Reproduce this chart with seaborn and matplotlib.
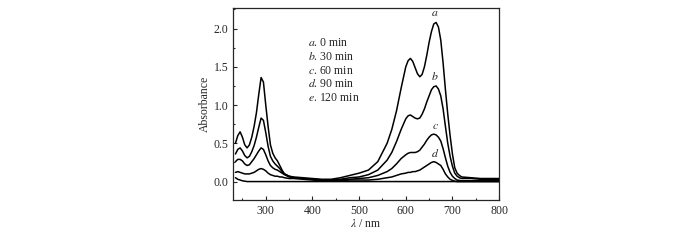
import pandas as pd
import numpy as np
import matplotlib.pyplot as plt
import seaborn as sns
from matplotlib.ticker import MultipleLocator

# wavelength grid (nm) and absorbance
wavelength = [235, 240, 245, 250, 255, 260, 265, 270, 275, 280, 285,
              290, 295, 300, 305, 310, 315, 320, 325, 330, 335, 340,
              350, 360, 380, 400, 420, 440, 460, 480, 500, 520, 540,
              560, 570, 580, 590, 600, 605, 610, 615, 620, 625, 630,
              635, 640, 645, 650, 655, 660, 665, 670, 675, 680, 685,
              690, 695, 700, 705, 710, 715, 720, 740, 760, 780, 800]

abs_a = [0.50, 0.60, 0.65, 0.58, 0.48, 0.44, 0.48, 0.58, 0.72, 0.90, 1.14,
         1.36, 1.30, 1.00, 0.72, 0.48, 0.37, 0.31, 0.27, 0.21, 0.15, 0.10,
         0.07, 0.06, 0.05, 0.04, 0.03, 0.03, 0.05, 0.08, 0.11, 0.15, 0.26,
         0.50, 0.68, 0.92, 1.22, 1.50, 1.58, 1.61, 1.57, 1.49, 1.41, 1.37,
         1.40, 1.50, 1.65, 1.82, 1.96, 2.06, 2.08, 2.02, 1.85, 1.55, 1.20,
         0.88, 0.60, 0.36, 0.18, 0.11, 0.08, 0.06, 0.05, 0.04, 0.04, 0.04]

abs_b = [0.36, 0.42, 0.44, 0.40, 0.34, 0.31, 0.33, 0.39, 0.47, 0.58, 0.71,
         0.83, 0.80, 0.64, 0.46, 0.33, 0.27, 0.23, 0.20, 0.17, 0.13, 0.10,
         0.07, 0.05, 0.04, 0.03, 0.02, 0.02, 0.03, 0.05, 0.06, 0.09, 0.15,
         0.28, 0.38, 0.52, 0.68, 0.82, 0.86, 0.87, 0.85, 0.83, 0.82, 0.83,
         0.88, 0.95, 1.04, 1.12, 1.20, 1.24, 1.25, 1.21, 1.12, 0.95, 0.72,
         0.50, 0.33, 0.20, 0.11, 0.07, 0.05, 0.04, 0.04, 0.03, 0.03, 0.03]

abs_c = [0.26, 0.29, 0.29, 0.27, 0.23, 0.21, 0.22, 0.26, 0.30, 0.35, 0.40,
         0.44, 0.42, 0.35, 0.27, 0.21, 0.18, 0.16, 0.15, 0.13, 0.11, 0.09,
         0.06, 0.05, 0.04, 0.03, 0.02, 0.02, 0.02, 0.03, 0.04, 0.05, 0.08,
         0.13, 0.17, 0.23, 0.30, 0.35, 0.37, 0.38, 0.38, 0.38, 0.39, 0.41,
         0.45, 0.49, 0.54, 0.58, 0.61, 0.62, 0.61, 0.58, 0.53, 0.43, 0.31,
         0.20, 0.12, 0.07, 0.04, 0.02, 0.015, 0.01, 0.01, 0.01, 0.01, 0.01]

abs_d = [0.12, 0.13, 0.12, 0.11, 0.10, 0.10, 0.10, 0.11, 0.12, 0.14, 0.16,
         0.17, 0.16, 0.14, 0.11, 0.09, 0.08, 0.07, 0.07, 0.06, 0.06, 0.05,
         0.04, 0.04, 0.03, 0.02, 0.01, 0.01, 0.01, 0.02, 0.02, 0.02, 0.03,
         0.05, 0.06, 0.08, 0.10, 0.11, 0.12, 0.12, 0.13, 0.13, 0.14, 0.15,
         0.17, 0.19, 0.21, 0.23, 0.25, 0.26, 0.25, 0.23, 0.21, 0.16, 0.10,
         0.06, 0.03, 0.015, 0.005, 0.0, 0.0, 0.0, 0.0, 0.0, 0.0, 0.0]

abs_e = [0.05, 0.03, 0.02, 0.01, 0.005, 0.0, 0.0, 0.0, 0.0, 0.0, 0.0,
         0.0, 0.0, 0.0, 0.0, 0.0, 0.0, 0.0, 0.0, 0.0, 0.0, 0.0,
         0.0, 0.0, 0.0, 0.0, 0.0, 0.0, 0.0, 0.0, 0.0, 0.0, 0.0,
         0.0, 0.0, 0.0, 0.0, 0.0, 0.0, 0.0, 0.0, 0.0, 0.0, 0.0,
         0.0, 0.0, 0.0, 0.0, 0.0, 0.0, 0.0, 0.0, 0.0, 0.0, 0.0,
         0.0, 0.0, 0.0, 0.0, 0.0, 0.0, 0.0, 0.0, 0.0, 0.0, 0.0]

series = {'a': abs_a, 'b': abs_b, 'c': abs_c, 'd': abs_d, 'e': abs_e}
legend_letters = ['a', 'b', 'c', 'd', 'e']
legend_times = ['0 min', '30 min', '60 min', '90 min', '120 min']
# curve labels placed above the main peak
peak_labels = {'a': 2.2, 'b': 1.37, 'c': 0.73, 'd': 0.36}

for k, v in series.items():
    assert len(v) == len(wavelength), k

df = pd.DataFrame([
    {'wl': w, 'A': v, 'curve': k}
    for k, vals in series.items() for w, v in zip(wavelength, vals)
])

sns.set_style('ticks')
plt.rcParams['font.family'] = ['Liberation Serif', 'DejaVu Serif']
plt.rcParams['mathtext.fontset'] = 'stix'

fig = plt.figure(figsize=(7, 2.4), dpi=100)
ax = fig.add_axes([0.333, 0.167, 0.38, 0.80])

sns.lineplot(data=df, x='wl', y='A', units='curve', estimator=None,
             color='black', linewidth=1.1, ax=ax, legend=False)

ax.set_xlim(230, 800)
ax.set_ylim(-0.24, 2.27)
ax.xaxis.set_major_locator(MultipleLocator(100))
ax.xaxis.set_minor_locator(MultipleLocator(50))
ax.yaxis.set_major_locator(MultipleLocator(0.5))
ax.yaxis.set_minor_locator(MultipleLocator(0.25))
ax.set_xticks([300, 400, 500, 600, 700, 800])
ax.yaxis.set_major_formatter(plt.FuncFormatter(lambda v, p: f'{v:.1f}'))
ax.tick_params(which='both', direction='in', labelsize=8.5, top=False, right=False)
ax.tick_params(which='major', length=3, width=0.8)
ax.tick_params(which='minor', length=1.5, width=0.8)
for s in ax.spines.values():
    s.set_linewidth(0.9)

ax.set_xlabel(r'$\lambda$ / nm', fontsize=8.5, labelpad=1)
ax.set_ylabel('Absorbance', fontsize=8.5, labelpad=2)

for i, (l, t) in enumerate(zip(legend_letters, legend_times)):
    ax.text(390, 1.81 - i * 0.18, f'${l}$. {t}', fontsize=8.5, va='center', ha='left')

for k, y in peak_labels.items():
    ax.text(663, y, f'${k}$', fontsize=8.5, ha='center', va='center')

fig.savefig('out.png', dpi=100)
